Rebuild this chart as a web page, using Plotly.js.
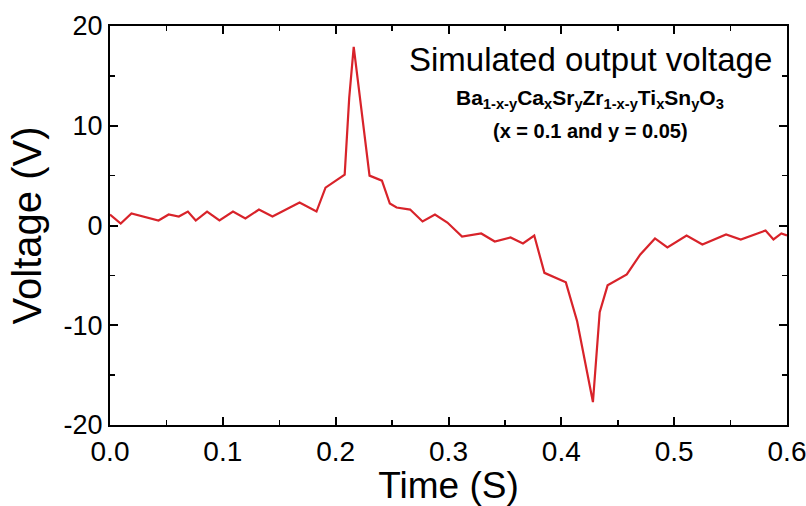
<!DOCTYPE html>
<html>
<head>
<meta charset="utf-8">
<script src="https://cdn.plot.ly/plotly-3.0.1.min.js"></script>
<style>html,body{margin:0;padding:0;background:#fff;}#chart{width:806px;height:506px;}</style>
</head>
<body>
<div id="chart"></div>
<script>
const timeS = [0, 0.0095, 0.019, 0.043, 0.052, 0.061, 0.069, 0.076, 0.086, 0.097,
  0.109, 0.120, 0.132, 0.144, 0.168, 0.183, 0.191, 0.208, 0.212, 0.216,
  0.230, 0.241, 0.248, 0.254, 0.266, 0.277, 0.288, 0.299, 0.312, 0.329,
  0.341, 0.355, 0.366, 0.376, 0.385, 0.404, 0.414, 0.428, 0.434, 0.441,
  0.458, 0.470, 0.483, 0.494, 0.511, 0.525, 0.546, 0.559, 0.581, 0.588,
  0.595, 0.600];
const voltageV = [1.1, 0.2, 1.2, 0.5, 1.1, 0.9, 1.4, 0.5, 1.4, 0.5,
  1.4, 0.7, 1.6, 0.9, 2.3, 1.4, 3.8, 5.1, 12.8, 17.9,
  5.0, 4.5, 2.2, 1.8, 1.6, 0.4, 1.1, 0.3, -1.1, -0.8,
  -1.6, -1.2, -1.8, -1.0, -4.75, -5.7, -9.6, -17.7, -8.7, -6.0,
  -4.9, -2.9, -1.3, -2.2, -1.0, -1.9, -0.9, -1.4, -0.5, -1.4,
  -0.8, -1.0];
const xTicks = [0, 0.1, 0.2, 0.3, 0.4, 0.5, 0.6];
const xTickText = ['0.0', '0.1', '0.2', '0.3', '0.4', '0.5', '0.6'];
const yTicks = [-20, -10, 0, 10, 20];
const yTickText = ['-20', '-10', '0', '10', '20'];

const font = 'Liberation Sans, Arial, sans-serif';

const trace = {
  x: timeS, y: voltageV, type: 'scatter', mode: 'lines',
  line: {color: '#d8232a', width: 2.2},
  hoverinfo: 'skip', showlegend: false
};

const axisCommon = {
  showline: true, linecolor: '#000', linewidth: 2, mirror: 'ticks',
  ticks: 'inside', ticklen: 8, tickwidth: 2, tickcolor: '#000',
  showgrid: false, zeroline: false,
  tickfont: {family: font, size: 28, color: '#000'}
};

const layout = {
  width: 806, height: 506,
  margin: {l: 110, r: 19, t: 26, b: 81, pad: 0},
  paper_bgcolor: '#fff', plot_bgcolor: '#fff',
  xaxis: Object.assign({}, axisCommon, {
    range: [0, 0.6], tickmode: 'array', tickvals: xTicks, ticktext: xTickText,
    ticklabeloverflow: 'allow',
    minor: {dtick: 0.05, tick0: 0, ticks: 'inside', ticklen: 5, tickwidth: 1.5, tickcolor: '#000'},
    title: {text: 'Time (S)', font: {family: font, size: 37, color: '#000'}, standoff: 8}
  }),
  yaxis: Object.assign({}, axisCommon, {
    range: [-20, 20], tickmode: 'array', tickvals: yTicks, ticktext: yTickText,
    tickfont: {family: font, size: 27, color: '#000'},
    minor: {dtick: 5, tick0: 0, ticks: 'inside', ticklen: 5, tickwidth: 1.5, tickcolor: '#000'},
    title: {text: 'Voltage (V)', font: {family: font, size: 40, color: '#000'}, standoff: 10}
  }),
  annotations: [
    {xref: 'x', yref: 'y', x: 0.4255, y: 16.6, xanchor: 'center', yanchor: 'middle', showarrow: false,
     text: 'Simulated output voltage', font: {family: font, size: 33, color: '#000'}},
    {xref: 'x', yref: 'y', x: 0.4255, y: 12.7, xanchor: 'center', yanchor: 'middle', showarrow: false,
     text: '<b>Ba<sub>1-x-y</sub>Ca<sub>x</sub>Sr<sub>y</sub>Zr<sub>1-x-y</sub>Ti<sub>x</sub>Sn<sub>y</sub>O<sub>3</sub></b>',
     font: {family: font, size: 21, color: '#000'}},
    {xref: 'x', yref: 'y', x: 0.4255, y: 9.5, xanchor: 'center', yanchor: 'middle', showarrow: false,
     text: '<b>(x = 0.1 and y = 0.05)</b>', font: {family: font, size: 20, color: '#000'}}
  ]
};

Plotly.newPlot('chart', [trace], layout, {displayModeBar: false, staticPlot: true});
</script>
</body>
</html>
